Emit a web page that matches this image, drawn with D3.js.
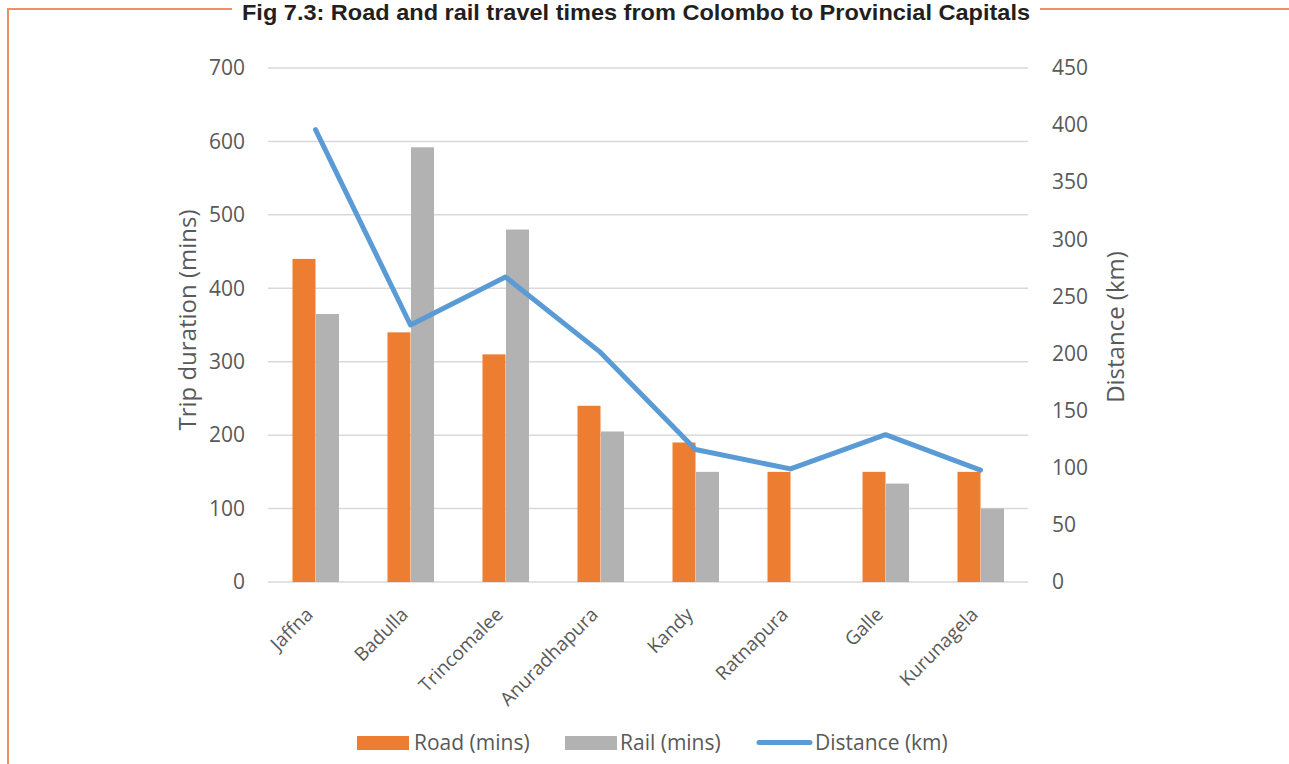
<!DOCTYPE html>
<html>
<head>
<meta charset="utf-8">
<script src="https://cdn.jsdelivr.net/npm/d3@7"></script>
<style>
  html, body { margin: 0; padding: 0; background: #ffffff; }
  svg { display: block; }
</style>
</head>
<body>
<script>
const categories = ["Jaffna", "Badulla", "Trincomalee", "Anuradhapura", "Kandy", "Ratnapura", "Galle", "Kurunagela"];
const roadMins = [440, 340, 310, 240, 190, 150, 150, 150];
const railMins = [365, 592, 480, 205, 150, null, 134, 100];
const distanceKm = [396, 225, 267, 201, 116, 99, 129, 98];
const leftTicks = [0, 100, 200, 300, 400, 500, 600, 700];
const rightTicks = [0, 50, 100, 150, 200, 250, 300, 350, 400, 450];
const seriesNames = ["Road (mins)", "Rail (mins)", "Distance (km)"];
const titleText = "Fig 7.3: Road and rail travel times from Colombo to Provincial Capitals";

const W = 1289, H = 764;
const plot = { left: 268, right: 1028, top: 68, bottom: 582 };
const colors = { road: "#ED7D31", rail: "#B2B2B2", dist: "#5B9BD5", grid: "#D9D9D9", text: "#595959", frame: "#EF9060" };
const font = "'Open Sans', sans-serif";

const svg = d3.select("body").append("svg").attr("width", W).attr("height", H);

// Frame
svg.append("line").attr("x1", 8).attr("x2", 8).attr("y1", 8.5).attr("y2", H).attr("stroke", colors.frame).attr("stroke-width", 2);
svg.append("line").attr("x1", 7).attr("x2", 232).attr("y1", 9).attr("y2", 9).attr("stroke", colors.frame).attr("stroke-width", 2);
svg.append("line").attr("x1", 1040).attr("x2", W).attr("y1", 9).attr("y2", 9).attr("stroke", colors.frame).attr("stroke-width", 2);

// Title
svg.append("text").attr("x", 636).attr("y", 20).attr("text-anchor", "middle")
  .style("font-family", "'Liberation Sans Narrow', 'Arial Narrow', sans-serif").style("font-weight", "bold")
  .style("font-size", "22px").attr("fill", "#231F20").text(titleText)
  .attr("textLength", 788).attr("lengthAdjust", "spacingAndGlyphs");

const x = d3.scaleBand().domain(categories).range([plot.left, plot.right]).paddingInner(0).paddingOuter(0);
const yL = d3.scaleLinear().domain([0, 700]).range([plot.bottom, plot.top]);
const yR = d3.scaleLinear().domain([0, 450]).range([plot.bottom, plot.top]);

// Gridlines
svg.append("g").selectAll("line").data(leftTicks).join("line")
  .attr("x1", plot.left).attr("x2", plot.right)
  .attr("y1", d => yL(d)).attr("y2", d => yL(d))
  .attr("stroke", colors.grid).attr("stroke-width", 1.5);

// Left axis
const gL = svg.append("g").attr("transform", `translate(${plot.left},0)`)
  .call(d3.axisLeft(yL).tickValues(leftTicks).tickSize(0).tickPadding(23));
gL.select(".domain").remove();
gL.selectAll("text").style("font-family", font).style("font-size", "21px").attr("fill", colors.text);

// Right axis
const gR = svg.append("g").attr("transform", `translate(${plot.right},0)`)
  .call(d3.axisRight(yR).tickValues(rightTicks).tickSize(0).tickPadding(24));
gR.select(".domain").remove();
gR.selectAll("text").style("font-family", font).style("font-size", "21px").attr("fill", colors.text);

// Axis titles
svg.append("text").attr("transform", `translate(196,320) rotate(-90)`)
  .attr("text-anchor", "middle").style("font-family", font).style("font-size", "24px").attr("fill", colors.text)
  .text("Trip duration (mins)");
svg.append("text").attr("transform", `translate(1124,327) rotate(-90)`)
  .attr("text-anchor", "middle").style("font-family", font).style("font-size", "24px").attr("fill", colors.text)
  .text("Distance (km)");

// Bars
const barW = 23;
const gBars = svg.append("g");
gBars.selectAll("rect.road").data(categories).join("rect").attr("class", "road")
  .attr("x", (d) => x(d) + x.bandwidth() / 2 - barW)
  .attr("width", barW)
  .attr("y", (d, i) => yL(roadMins[i]))
  .attr("height", (d, i) => yL(0) - yL(roadMins[i]))
  .attr("fill", colors.road);
gBars.selectAll("rect.rail").data(categories.filter((d, i) => railMins[i] != null)).join("rect").attr("class", "rail")
  .attr("x", (d) => x(d) + x.bandwidth() / 2 + 0.5)
  .attr("width", barW)
  .attr("y", d => yL(railMins[categories.indexOf(d)]))
  .attr("height", d => yL(0) - yL(railMins[categories.indexOf(d)]))
  .attr("fill", colors.rail);

// Line
const line = d3.line().x((d, i) => x(categories[i]) + x.bandwidth() / 2).y(d => yR(d));
svg.append("path").datum(distanceKm).attr("d", line).attr("fill", "none")
  .attr("stroke", colors.dist).attr("stroke-width", 5).attr("stroke-linejoin", "round").attr("stroke-linecap", "round");

// X labels
svg.append("g").selectAll("text").data(categories).join("text")
  .attr("transform", d => `translate(${x(d) + x.bandwidth() / 2 - 6},${611}) rotate(-45)`)
  .attr("text-anchor", "end").attr("dy", "0.35em")
  .style("font-family", font).style("font-size", "19px").attr("fill", colors.text)
  .text(d => d);

// Legend
const lg = svg.append("g").style("font-family", font).style("font-size", "21px");
lg.append("rect").attr("x", 357).attr("y", 736).attr("width", 52).attr("height", 14).attr("fill", colors.road);
lg.append("text").attr("x", 414).attr("y", 750).attr("fill", colors.text).text(seriesNames[0]);
lg.append("rect").attr("x", 565).attr("y", 736).attr("width", 52).attr("height", 14).attr("fill", colors.rail);
lg.append("text").attr("x", 620).attr("y", 750).attr("fill", colors.text).text(seriesNames[1]);
lg.append("line").attr("x1", 759).attr("x2", 810).attr("y1", 742.5).attr("y2", 742.5)
  .attr("stroke", colors.dist).attr("stroke-width", 5).attr("stroke-linecap", "round");
lg.append("text").attr("x", 815).attr("y", 750).attr("fill", colors.text).text(seriesNames[2]);
</script>
</body>
</html>
